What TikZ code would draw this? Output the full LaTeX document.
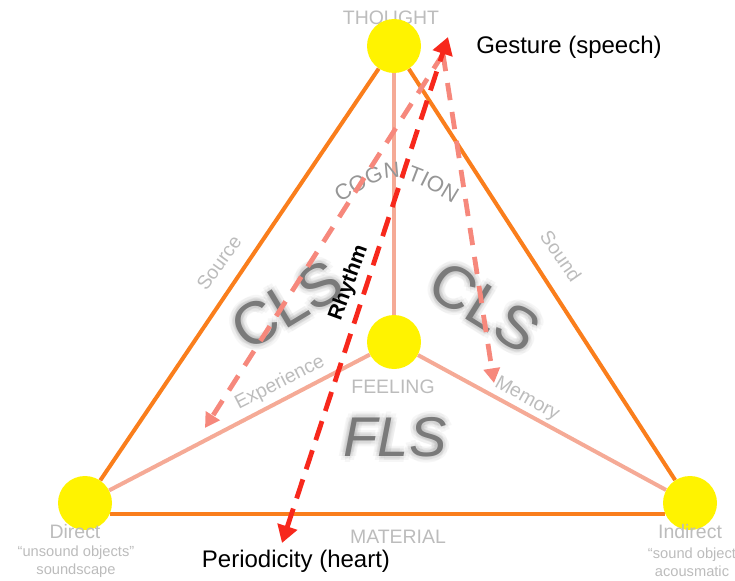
\documentclass[tikz,border=0pt]{standalone}
\usepackage{fontspec}
\setmainfont{Liberation Sans}
\usepackage{tikz}
\usetikzlibrary{arrows.meta,calc,decorations.text}
\definecolor{edgeorange}{RGB}{250,126,28}
\definecolor{spokesalmon}{RGB}{245,170,150}
\definecolor{recallred}{RGB}{246,136,124}
\definecolor{pulsered}{RGB}{247,40,28}
\definecolor{poleyellow}{RGB}{255,243,0}
\definecolor{dimgray}{RGB}{188,188,188}
\definecolor{coggray}{RGB}{150,150,150}
\definecolor{sysgray}{RGB}{122,122,122}
\definecolor{glowgray}{RGB}{110,110,110}
\pgfdeclarelayer{back}
\pgfsetlayers{back,main}

\begin{document}
\begin{tikzpicture}[x=0.75pt,y=-0.75pt,
  pole/.style={circle, fill=poleyellow, minimum size=40.5pt, inner sep=0pt},
  side/.style={edgeorange, line width=3pt},
  spoke/.style={spokesalmon, line width=3pt},
  greylabel/.style={text=dimgray, font=\fontsize{14.6}{15}\selectfont, inner sep=0pt},
  sublabel/.style={text=dimgray, font=\fontsize{11}{13.5}\selectfont, inner sep=0pt, align=center},
  sysname/.style={text=sysgray, font=\fontsize{45}{45}\selectfont, inner sep=0pt},
  glow/.style={sysname, text=glowgray, text opacity=0.06},
  caption/.style={font=\fontsize{18}{18}\selectfont, inner sep=0pt},
  recall/.style={recallred, line width=3.6pt, dash pattern=on 13pt off 9pt, -{Triangle[length=11pt,width=12pt]}},
  pulse/.style={pulsered, line width=3.6pt, dash pattern=on 15pt off 8pt, {Triangle[length=13pt,width=15pt]}-{Triangle[length=13pt,width=15pt]}}
]
\useasboundingbox (0,0) rectangle (735,581);
\node[pole] (thought) at (394,46) {};
\node[pole] (feeling) at (394,342) {};
\node[pole] (direct) at (85,503) {};
\node[pole] (indirect) at (690,503) {};
\begin{pgfonlayer}{back}
\node[greylabel] (thoughtlabel) at (391,18) {THOUGHT};
\draw[side] (thought) -- (direct);
\draw[side] (thought) -- (indirect);
\draw[side] (direct.-24) -- (indirect.-156);
\draw[spoke] (thought) -- (feeling);
\draw[spoke] (feeling) -- (direct);
\draw[spoke] (feeling) -- (indirect);
\end{pgfonlayer}
\node[greylabel, rotate=54] (source) at (219,263) {Source};
\node[greylabel, rotate=-55] (sound) at (561,256) {Sound};
\node[greylabel, rotate=27] (experience) at (280,383) {Experience};
\node[greylabel, rotate=-29] (memory) at (527,399) {Memory};
\node[greylabel] (feelinglabel) at (393,387) {FEELING};
\node[greylabel] (material) at (398,537) {MATERIAL};
\node[greylabel] (directlabel) at (75,532) {Direct};
\node[sublabel] (directnote) at (76,562) {``unsound objects''\\soundscape};
\node[greylabel] (indirectlabel) at (690,532) {Indirect};
\node[sublabel] (indirectnote) at (692,562) {``sound object\\acousmatic};
\path[decorate, decoration={text along path, text align=center,
  text={|\fontsize{16.5}{17}\selectfont\color{coggray}|COGNITION}}]
  (336,205) .. controls (396,169) .. (457,206);
\foreach \a in {0,45,...,315} \foreach \r in {3,6} {
  \node[glow, rotate=31] (clsleftglow\a\r) at ($(287,305)+(\a:\r)$) {CLS};
  \node[glow, rotate=-32] (clsrightglow\a\r) at ($(485,307)+(\a:\r)$) {CLS};
  \node[glow, font=\fontsize{42}{42}\selectfont\itshape] (flsglow\a\r) at ($(395,437)+(\a:\r)$) {FLS};
}
\node[sysname, rotate=31] (clsleft) at (287,305) {CLS};
\node[sysname, rotate=-32] (clsright) at (485,307) {CLS};
\node[sysname, font=\fontsize{42}{42}\selectfont\itshape] (fls) at (395,437) {FLS};
\coordinate (apex) at (443,54);
\coordinate (experiencetip) at (205,428);
\coordinate (memorytip) at (494,383);
\draw[recall] (apex) -- (experiencetip);
\draw[recall] (apex) -- (memorytip);
\coordinate (speechtip) at (448,37);
\coordinate (hearttip) at (282,543);
\draw[pulse] (hearttip) -- (speechtip);
\node[caption, font=\fontsize{15.75}{16}\selectfont\bfseries, rotate=70] (rhythm) at (349,283) {Rhythm};
\node[caption, anchor=west] (gesture) at (476,47) {Gesture (speech)};
\node[caption] (periodicity) at (296,561) {Periodicity (heart)};
\end{tikzpicture}
\end{document}
